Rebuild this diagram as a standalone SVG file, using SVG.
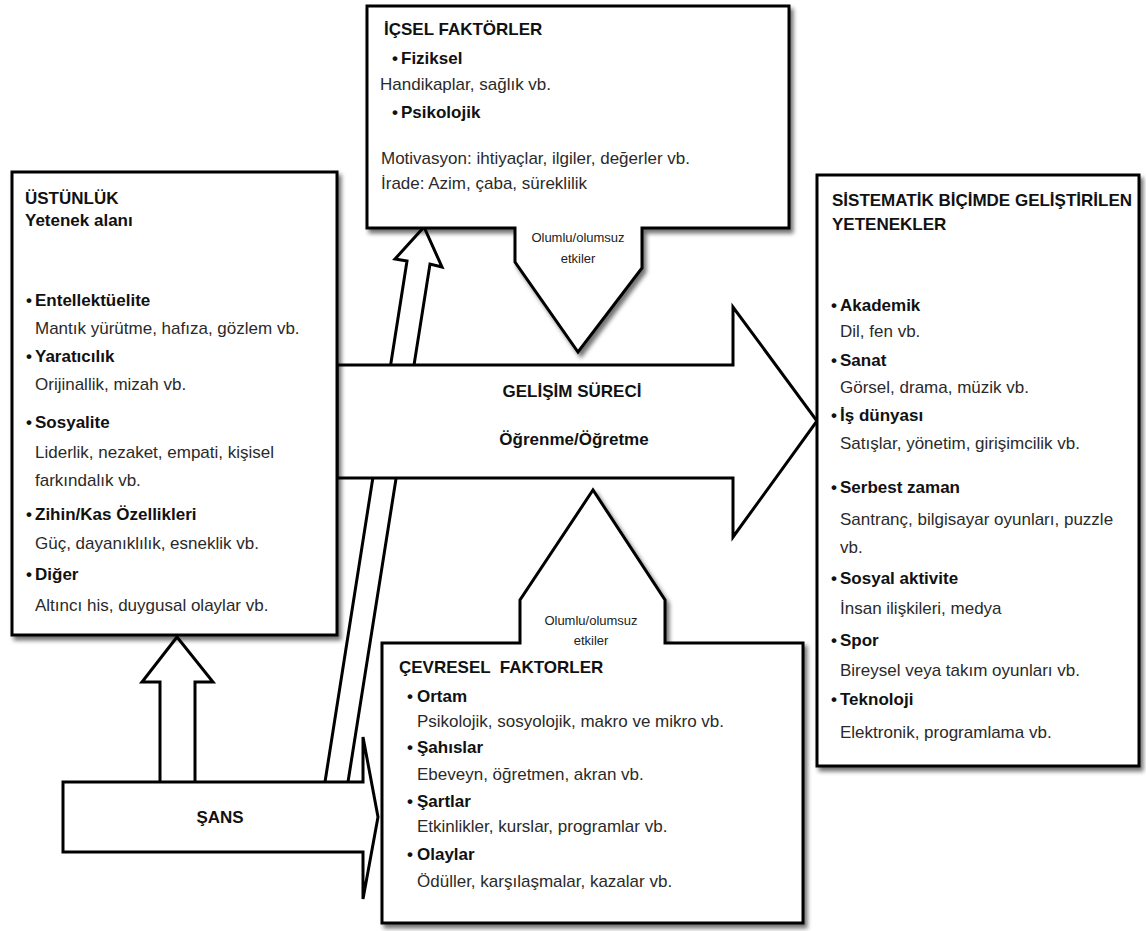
<svg xmlns="http://www.w3.org/2000/svg" width="1146" height="931" viewBox="0 0 1146 931">
  <defs>
    <filter id="sh" x="-5%" y="-5%" width="112%" height="112%">
      <feDropShadow dx="3" dy="4" stdDeviation="2.2" flood-color="#000" flood-opacity="0.55"/>
    </filter>
    <style>
      .t { font-family: "Liberation Sans", Arial, sans-serif; font-size: 17px; fill: #2a2a2a; }
      .b { font-weight: bold; fill: #111; }
      .s { font-size: 13px; fill: #222; }
      .box { fill: #fff; stroke: #000; stroke-width: 3; stroke-linejoin: miter; filter: url(#sh); }
      .arr { fill: #fff; stroke: #000; stroke-width: 3; stroke-linejoin: miter; }
    </style>
  </defs>
  <rect width="1146" height="931" fill="#fff"/>

  <!-- connectors -->
  <g id="connectors">
    <!-- chance to inner factors (slanted block arrow) -->
    <path id="edge-sans-icsel" class="arr" d="M325,782 L407,261 L395,259 L424,227 L442,267 L430,264 L348,782"/>
    <!-- chance to excellence (vertical block arrow) -->
    <path id="edge-sans-ustunluk" class="arr" d="M160,784 V682 H142 L177,637 L213,682 H195 V784"/>
  </g>

  <!-- chance -->
  <g id="node-sans">
    <path class="arr" d="M63,782 H363 V737 L378,817 L363,899 V852 H63 Z"/>
    <text class="t b" x="220" y="823" text-anchor="middle">ŞANS</text>
  </g>

  <!-- development process -->
  <g id="node-gelisim">
    <path class="arr" d="M337,365 H733 V307 L817,421 L733,537 V478 H337 Z"/>
    <text class="t b" x="572" y="397" text-anchor="middle">GELİŞİM SÜRECİ</text>
    <text class="t b" x="574" y="445" text-anchor="middle">Öğrenme/Öğretme</text>
  </g>

  <!-- inner factors with callout -->
  <g id="node-icsel">
    <path class="box" d="M367,6 H789 V228 H642 V268 L578,352 L515,262 V228 H367 Z"/>
    <text class="t b" x="384" y="35">İÇSEL FAKTÖRLER</text>
    <text class="t b" x="392" y="64">•</text><text class="t b" x="401" y="64">Fiziksel</text>
    <text class="t" x="380" y="90">Handikaplar, sağlık vb.</text>
    <text class="t b" x="392" y="118">•</text><text class="t b" x="401" y="118">Psikolojik</text>
    <text class="t" x="381" y="164">Motivasyon: ihtiyaçlar, ilgiler, değerler vb.</text>
    <text class="t" x="381" y="189">İrade: Azim, çaba, süreklilik</text>
    <text class="t s" x="578" y="242" text-anchor="middle">Olumlu/olumsuz</text>
    <text class="t s" x="578" y="263" text-anchor="middle">etkiler</text>
  </g>

  <!-- excellence -->
  <g id="node-ustunluk">
    <rect class="box" x="12" y="172" width="325" height="463"/>
    <text class="t b" x="25" y="204">ÜSTÜNLÜK</text>
    <text class="t b" x="25" y="226">Yetenek alanı</text>
    <text class="t b" x="26" y="306">•</text><text class="t b" x="35" y="306">Entellektüelite</text>
    <text class="t" x="35" y="334">Mantık yürütme, hafıza, gözlem vb.</text>
    <text class="t b" x="26" y="362">•</text><text class="t b" x="35" y="362">Yaratıcılık</text>
    <text class="t" x="35" y="390">Orijinallik, mizah vb.</text>
    <text class="t b" x="26" y="428">•</text><text class="t b" x="35" y="428">Sosyalite</text>
    <text class="t" x="35" y="458">Liderlik, nezaket, empati, kişisel</text>
    <text class="t" x="35" y="486">farkındalık vb.</text>
    <text class="t b" x="26" y="520">•</text><text class="t b" x="35" y="520">Zihin/Kas Özellikleri</text>
    <text class="t" x="35" y="549">Güç, dayanıklılık, esneklik vb.</text>
    <text class="t b" x="26" y="580">•</text><text class="t b" x="35" y="580">Diğer</text>
    <text class="t" x="35" y="611">Altıncı his, duygusal olaylar vb.</text>
  </g>

  <!-- systematically developed talents -->
  <g id="node-sistematik">
    <rect class="box" x="817" y="175" width="322" height="591"/>
    <text class="t b" x="832" y="206">SİSTEMATİK BİÇİMDE GELİŞTİRİLEN</text>
    <text class="t b" x="832" y="230">YETENEKLER</text>
    <text class="t b" x="831" y="311">•</text><text class="t b" x="840" y="311">Akademik</text>
    <text class="t" x="840" y="337">Dil, fen vb.</text>
    <text class="t b" x="831" y="366">•</text><text class="t b" x="840" y="366">Sanat</text>
    <text class="t" x="840" y="393">Görsel, drama, müzik vb.</text>
    <text class="t b" x="831" y="421">•</text><text class="t b" x="840" y="421">İş dünyası</text>
    <text class="t" x="840" y="449">Satışlar, yönetim, girişimcilik vb.</text>
    <text class="t b" x="831" y="493">•</text><text class="t b" x="840" y="493">Serbest zaman</text>
    <text class="t" x="840" y="525">Santranç, bilgisayar oyunları, puzzle</text>
    <text class="t" x="840" y="553">vb.</text>
    <text class="t b" x="831" y="584">•</text><text class="t b" x="840" y="584">Sosyal aktivite</text>
    <text class="t" x="840" y="614">İnsan ilişkileri, medya</text>
    <text class="t b" x="831" y="646">•</text><text class="t b" x="840" y="646">Spor</text>
    <text class="t" x="840" y="676">Bireysel veya takım oyunları vb.</text>
    <text class="t b" x="831" y="705">•</text><text class="t b" x="840" y="705">Teknoloji</text>
    <text class="t" x="840" y="738">Elektronik, programlama vb.</text>
  </g>

  <!-- environmental factors with callout -->
  <g id="node-cevresel">
    <path class="box" d="M382,643 H520 V600 L593,490 L665,600 V643 H803 V923 H382 Z"/>
    <text class="t s" x="591" y="625" text-anchor="middle">Olumlu/olumsuz</text>
    <text class="t s" x="591" y="645" text-anchor="middle">etkiler</text>
    <text class="t b" x="399" y="673" xml:space="preserve">ÇEVRESEL  FAKTORLER</text>
    <text class="t b" x="407" y="702">•</text><text class="t b" x="417" y="702">Ortam</text>
    <text class="t" x="417" y="727">Psikolojik, sosyolojik, makro ve mikro vb.</text>
    <text class="t b" x="407" y="753">•</text><text class="t b" x="417" y="753">Şahıslar</text>
    <text class="t" x="417" y="780">Ebeveyn, öğretmen, akran vb.</text>
    <text class="t b" x="407" y="807">•</text><text class="t b" x="417" y="807">Şartlar</text>
    <text class="t" x="417" y="832">Etkinlikler, kurslar, programlar vb.</text>
    <text class="t b" x="407" y="860">•</text><text class="t b" x="417" y="860">Olaylar</text>
    <text class="t" x="417" y="887">Ödüller, karşılaşmalar, kazalar vb.</text>
  </g>
</svg>
